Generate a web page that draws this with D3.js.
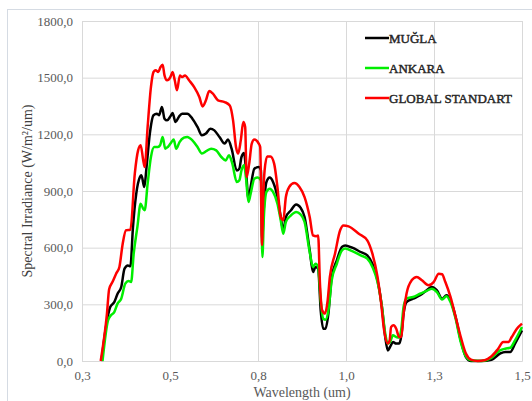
<html>
<head>
<style>
  body { margin: 0; background: #fff; }
</style>
</head>
<body>
<svg id="chart" width="532" height="401"></svg>
<script src="https://cdnjs.cloudflare.com/ajax/libs/d3/7.8.5/d3.min.js"></script>
<script>
// series names and colours
let seriesNames = ["MUĞLA", "ANKARA", "GLOBAL STANDART"]
let seriesColors = ["#000000", "#00ee00", "#ff0000"]

// tick values and labels
let xTicks = [0.3, 0.54, 0.78, 1.02, 1.26, 1.5]
let xTickLabels = ["0,3", "0,5", "0,8", "1,0", "1,3", "1,5"]
let yTicks = [0, 300, 600, 900, 1200, 1500, 1800]
let yTickLabels = ["0,0", "300,0", "600,0", "900,0", "1200,0", "1500,0", "1800,0"]

// MUĞLA (um, W/m2/um)
let muglaWl = [0.353,0.370,0.377,0.388,0.397,0.407,0.416,0.425,0.432,0.439,0.448,0.458,0.462,0.470,0.476,0.485,0.495,0.504,0.510,0.518,0.525,0.532,0.541,0.547,0.555,0.564,0.573,0.587,0.601,0.615,0.627,0.638,0.650,0.661,0.675,0.689,0.698,0.708,0.722,0.729,0.735,0.742,0.747,0.754,0.760,0.770,0.782,0.788,0.791,0.796,0.803,0.812,0.821,0.833,0.842,0.849,0.856,0.870,0.884,0.896,0.907,0.921,0.930,0.937,0.944,0.951,0.958,0.964,0.972,0.981,0.995,1.009,1.018,1.037,1.060,1.078,1.092,1.106,1.118,1.127,1.134,1.140,1.148,1.157,1.165,1.171,1.177,1.185,1.203,1.222,1.240,1.254,1.268,1.282,1.294,1.305,1.319,1.333,1.347,1.361,1.389,1.417,1.440,1.454,1.468,1.481,1.500]
let muglaVal = [0,233,286,312,356,392,489,506,501,709,886,974,983,921,1027,1204,1301,1309,1301,1345,1283,1274,1295,1313,1265,1292,1309,1309,1283,1239,1195,1204,1230,1221,1186,1151,1172,1124,1009,1018,1080,1101,1018,859,921,1018,1027,1009,639,815,948,971,948,868,762,692,762,798,829,812,762,586,471,498,489,268,171,171,251,445,533,604,612,600,577,559,515,427,286,127,56,74,100,92,92,136,251,312,330,348,374,392,374,330,348,321,233,109,21,0,0,7,39,48,48,92,162]

// ANKARA
let ankaraWl = [0.356,0.371,0.379,0.388,0.397,0.407,0.418,0.427,0.434,0.441,0.451,0.460,0.467,0.471,0.479,0.488,0.497,0.507,0.513,0.520,0.527,0.534,0.544,0.550,0.557,0.566,0.578,0.587,0.601,0.615,0.627,0.640,0.652,0.666,0.680,0.692,0.701,0.710,0.722,0.729,0.735,0.742,0.747,0.754,0.760,0.770,0.779,0.788,0.792,0.796,0.803,0.812,0.821,0.833,0.842,0.849,0.856,0.870,0.884,0.896,0.907,0.921,0.930,0.937,0.944,0.951,0.958,0.964,0.972,0.981,0.995,1.009,1.018,1.037,1.060,1.078,1.092,1.106,1.118,1.127,1.134,1.140,1.148,1.157,1.165,1.171,1.177,1.185,1.203,1.222,1.240,1.254,1.268,1.282,1.294,1.305,1.319,1.333,1.347,1.361,1.389,1.417,1.440,1.454,1.468,1.481,1.500]
let ankaraVal = [0,215,242,259,304,330,409,424,418,568,709,833,806,798,939,1080,1133,1133,1142,1186,1124,1133,1159,1172,1124,1159,1182,1186,1168,1133,1098,1112,1124,1115,1080,1062,1089,1045,948,956,1009,1036,974,842,886,965,971,956,551,762,895,912,895,833,745,674,736,771,789,776,736,577,498,515,498,321,224,219,268,427,515,586,595,582,559,542,498,418,286,145,92,100,136,127,124,171,286,330,339,356,371,383,365,325,343,312,224,100,25,4,0,18,56,65,70,109,180]

// GLOBAL STANDART
let globalWl = [0.351,0.368,0.374,0.383,0.393,0.402,0.411,0.420,0.432,0.444,0.453,0.460,0.467,0.471,0.479,0.488,0.495,0.501,0.508,0.514,0.520,0.525,0.532,0.541,0.547,0.553,0.559,0.567,0.573,0.581,0.592,0.606,0.620,0.629,0.638,0.647,0.657,0.671,0.689,0.703,0.712,0.720,0.726,0.733,0.740,0.745,0.749,0.756,0.763,0.770,0.782,0.786,0.791,0.794,0.798,0.805,0.814,0.824,0.833,0.842,0.849,0.856,0.865,0.879,0.893,0.907,0.921,0.930,0.939,0.944,0.949,0.955,0.963,0.970,0.976,0.990,1.004,1.013,1.027,1.055,1.078,1.092,1.106,1.115,1.124,1.134,1.139,1.143,1.150,1.157,1.165,1.171,1.177,1.185,1.199,1.213,1.227,1.245,1.259,1.273,1.282,1.291,1.305,1.319,1.333,1.347,1.361,1.379,1.398,1.417,1.435,1.449,1.463,1.472,1.486,1.500]
let globalVal = [0,250,380,418,462,498,621,692,695,992,1115,1142,1062,1027,1239,1450,1530,1539,1530,1556,1569,1512,1486,1503,1530,1486,1433,1512,1503,1512,1486,1450,1398,1348,1380,1429,1415,1380,1371,1353,1274,1133,1098,1168,1265,1239,974,1045,1151,1172,1151,1133,614,850,1009,1083,1083,1045,921,762,745,868,921,942,921,868,762,665,660,665,409,268,251,321,445,568,692,718,713,674,639,568,445,321,162,92,109,180,189,171,127,127,251,356,427,445,427,401,418,462,459,418,339,233,127,39,7,0,4,25,65,100,100,127,171,198]

let series = [
    {name: seriesNames[0], color: seriesColors[0], wl: muglaWl, val: muglaVal},
    {name: seriesNames[1], color: seriesColors[1], wl: ankaraWl, val: ankaraVal},
    {name: seriesNames[2], color: seriesColors[2], wl: globalWl, val: globalVal}
]

let serif = "'Liberation Serif', 'Times New Roman', serif"
let svg = d3.select("#chart")
let plotLeft = 82, plotRight = 522, plotTop = 21, plotBottom = 361

// outer chart border
svg.append("rect")
    .attr("x", 7.5).attr("y", 9.5)
    .attr("width", 530).attr("height", 400)
    .attr("fill", "white")
    .attr("stroke", "#d5dbe3")

let x = d3.scaleLinear().domain([0.3, 1.5]).range([plotLeft, plotRight])
let y = d3.scaleLinear().domain([0, 1800]).range([plotBottom, plotTop])

// horizontal gridlines + y labels
let yAxis = svg.append("g")
    .attr("transform", `translate(${plotLeft},0)`)
    .call(d3.axisLeft(y).tickValues(yTicks)
        .tickSize(-(plotRight - plotLeft)).tickPadding(9)
        .tickFormat((d, i) => yTickLabels[i]))
yAxis.select(".domain").remove()
yAxis.selectAll("line").attr("stroke", "#d9d9d9")
yAxis.selectAll("text")
    .attr("fill", "#595959")
    .attr("font-size", 13)
    .attr("font-family", serif)

// vertical gridlines + x labels
let xAxis = svg.append("g")
    .attr("transform", `translate(0,${plotBottom})`)
    .call(d3.axisBottom(x).tickValues(xTicks)
        .tickSize(-(plotBottom - plotTop)).tickPadding(10)
        .tickFormat((d, i) => xTickLabels[i]))
xAxis.select(".domain").attr("stroke", "#d9d9d9")
xAxis.selectAll("line").attr("stroke", "#d9d9d9")
xAxis.selectAll("text")
    .attr("fill", "#595959")
    .attr("font-size", 13)
    .attr("font-family", serif)

// lines
let line = d3.line()
    .x(d => x(d[0]))
    .y(d => y(d[1]))
    .curve(d3.curveMonotoneX)

series.forEach(s => {
    svg.append("path")
        .datum(s.wl.map((w, i) => [w, s.val[i]]))
        .attr("fill", "none")
        .attr("stroke", s.color)
        .attr("stroke-width", 2.5)
        .attr("stroke-linejoin", "round")
        .attr("d", line)
})

// axis titles
svg.append("text")
    .attr("x", (plotLeft + plotRight) / 2).attr("y", 397)
    .attr("text-anchor", "middle")
    .attr("fill", "#595959")
    .attr("font-family", serif)
    .attr("font-size", 14)
    .text("Wavelength  (um)")

svg.append("text")
    .attr("transform", `translate(32,${(plotTop + plotBottom) / 2}) rotate(-90)`)
    .attr("text-anchor", "middle")
    .attr("fill", "#404040")
    .attr("font-family", serif)
    .attr("font-size", 14)
    .text("Spectral Irradiance (W/m²/um)")

// legend (serif, thickened with a thin stroke)
let legend = svg.append("g")
series.forEach((s, i) => {
    let ly = 38 + i * 30
    legend.append("line")
        .attr("x1", 365).attr("x2", 389)
        .attr("y1", ly).attr("y2", ly)
        .attr("stroke", s.color)
        .attr("stroke-width", 2.5)
    legend.append("text")
        .attr("x", 389).attr("y", ly + 4.5)
        .attr("fill", "#262626")
        .attr("stroke", "#262626")
        .attr("stroke-width", 0.45)
        .attr("font-family", serif)
        .attr("font-size", 13)
        .text(s.name)
})
</script>
</body>
</html>
